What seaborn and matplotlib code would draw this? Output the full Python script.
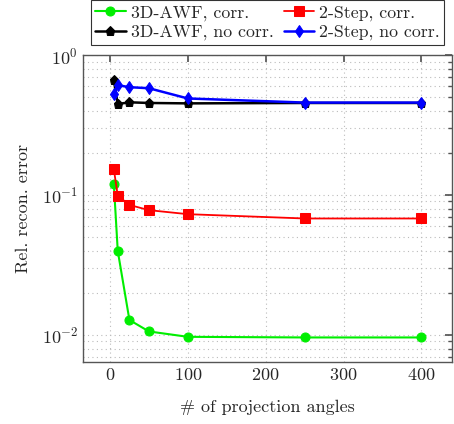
import numpy as np
import pandas as pd
import matplotlib
matplotlib.use("Agg")
import matplotlib.pyplot as plt
import matplotlib.ticker as mticker
import seaborn as sns

# projection angles and relative reconstruction errors
angles = [5, 10, 25, 50, 100, 250, 400]
awf_corr = [0.12, 0.040, 0.0128, 0.0106, 0.0097, 0.0096, 0.0096]
step_corr = [0.153, 0.099, 0.085, 0.078, 0.073, 0.068, 0.068]
awf_nocorr = [0.66, 0.447, 0.46, 0.455, 0.452, 0.455, 0.455]
step_nocorr = [0.53, 0.61, 0.59, 0.58, 0.49, 0.458, 0.458]

series_names = ["3D-AWF, corr.", "3D-AWF, no corr.", "2-Step, corr.", "2-Step, no corr."]
series_vals = [awf_corr, awf_nocorr, step_corr, step_nocorr]
colors = ["#00ee00", "black", "red", "blue"]
markers = ["o", "p", "s", "d"]
msizes = [6.5, 6.5, 6.5, 6]
lwidths = [1.5, 1.8, 1.3, 1.8]

sns.set_theme(style="white")
plt.rcParams["font.family"] = ["serif"]
plt.rcParams["font.serif"] = ["cmr10", "DejaVu Serif"]
plt.rcParams["mathtext.fontset"] = "cm"
plt.rcParams["axes.formatter.use_mathtext"] = True

fig = plt.figure(figsize=(4.54, 4.24), dpi=100)
ax = fig.add_axes([0.183, 0.146, 0.813, 0.724])

for name, vals, c, m, ms, lw in zip(series_names, series_vals, colors, markers, msizes, lwidths):
    df = pd.DataFrame({"angles": angles, "err": vals})
    sns.lineplot(data=df, x="angles", y="err", ax=ax, color=c, marker=m,
                 markersize=ms, markeredgecolor=c, linewidth=lw, label=name)

ax.set_yscale("log")
ax.set_xlim(-34.5, 439.5)
ax.set_ylim(0.0064, 1.0)
ax.set_xticks([0, 100, 200, 300, 400])
ax.yaxis.set_major_locator(mticker.LogLocator(base=10, numticks=10))
ax.yaxis.set_minor_locator(mticker.LogLocator(base=10, subs=np.arange(2, 10), numticks=20))
ax.yaxis.set_major_formatter(mticker.LogFormatterMathtext())
ax.yaxis.set_minor_formatter(mticker.NullFormatter())

ax.grid(True, which="major", linestyle=(0, (1, 3)), color="#bbbbbb", linewidth=0.8)
ax.grid(True, which="minor", axis="y", linestyle=(0, (1, 3)), color="#bbbbbb", linewidth=0.8)
ax.tick_params(axis="both", which="both", direction="in", top=True, right=True,
               labelsize=13, color="#555555")
ax.tick_params(which="major", length=5)
ax.tick_params(which="minor", length=3)
for sp in ax.spines.values():
    sp.set_color("#555555")
    sp.set_linewidth(1.0)

ax.set_xlabel("# of projection angles", fontsize=13, labelpad=12)
ax.set_ylabel("Rel. recon. error", fontsize=13, labelpad=8)

ax.legend(loc="lower center", bbox_to_anchor=(0.5, 1.005), ncol=2, fontsize=12.8,
          frameon=True, fancybox=False, edgecolor="black", borderpad=0.25,
          handlelength=1.7, columnspacing=0.55, handletextpad=0.3, labelspacing=0.2)
leg = ax.get_legend()
leg.get_frame().set_linewidth(0.8)

fig.savefig("out.png", dpi=100)
